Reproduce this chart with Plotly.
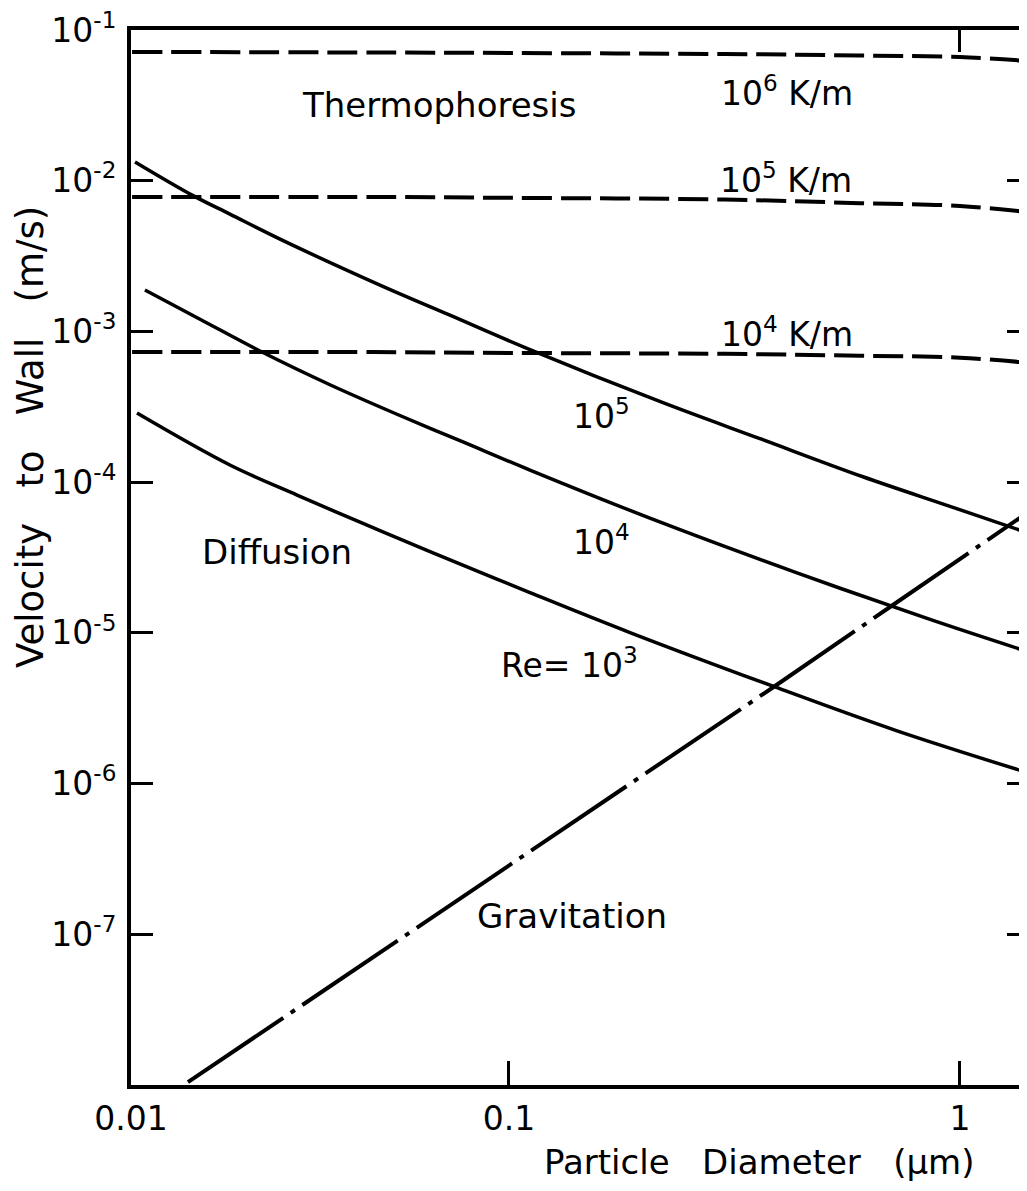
import math
import plotly.graph_objects as go

# ---------------- data ----------------
# Thermophoresis (temperature gradients)
thermo_x = [0.0146, 0.05, 0.1, 0.3, 0.6, 1.0, 1.41]
thermo_1e6 = [0.0715, 0.0709, 0.0704, 0.0693, 0.0677, 0.0662, 0.0623]
thermo_1e5 = [0.0078, 0.0078, 0.0077, 0.0075, 0.0071, 0.0068, 0.0062]
thermo_1e4 = [7.3e-4, 7.3e-4, 7.2e-4, 7.1e-4, 6.9e-4, 6.7e-4, 6.2e-4]

# Diffusion, Re = 1e5
diff5_x = [0.01482, 0.01993, 0.02406, 0.03107, 0.05176, 0.07398, 0.1096, 0.2195, 0.3601, 0.6093, 0.9502, 1.408]
diff5_y = [0.01331, 7.96e-3, 6.004e-3, 4.097e-3, 2.029e-3, 1.281e-3, 7.72e-4, 3.364e-4, 1.943e-4, 1.086e-4, 6.91e-5, 4.63e-5]

# Diffusion, Re = 1e4
diff4_x = [0.01559, 0.02065, 0.02848, 0.04009, 0.05645, 0.07907, 0.1113, 0.2195, 0.4351, 0.8581, 1.408]
diff4_y = [1.882e-3, 1.205e-3, 7.244e-4, 4.429e-4, 2.822e-4, 1.848e-4, 1.203e-4, 5.34e-5, 2.501e-5, 1.227e-5, 7.527e-6]

# Diffusion, Re = 1e3
diff3_x = [0.01497, 0.02406, 0.03389, 0.04746, 0.06681, 0.1113, 0.1855, 0.3889, 0.7251, 1.408]
diff3_y = [2.874e-4, 1.299e-4, 8.21e-5, 5.32e-5, 3.463e-5, 1.851e-5, 1.005e-5, 4.375e-6, 2.237e-6, 1.185e-6]

# Gravitation
grav_x = [0.01942, 0.0876, 0.389, 0.710, 1.408]
grav_y = [1.044e-8, 2.19e-7, 4.44e-6, 1.53e-5, 6.24e-5]

# Axis ticks
x_tick_vals = [0.01452, 0.1, 1]
x_tick_text = ["0.01", "0.1", "1"]
y_tick_vals = [1e-1, 1e-2, 1e-3, 1e-4, 1e-5, 1e-6, 1e-7]
y_tick_text = ["10<sup>-1</sup>", "10<sup>-2</sup>", "10<sup>-3</sup>", "10<sup>-4</sup>",
               "10<sup>-5</sup>", "10<sup>-6</sup>", "10<sup>-7</sup>"]

# ---------------- figure ----------------
FONT = "DejaVu Sans"
# page body has an 8px margin; the figure is sized so that it fills the window exactly
W, H = 1019, 1175
L, T = 123, 22            # plot area left / top inside the figure
PB = 1077                 # plot area bottom inside the figure
PW, PH = W - L, PB - T

fig = go.Figure()

dash_style = dict(color="black", width=4, dash="30px,9px", shape="spline")
for ys in (thermo_1e6, thermo_1e5, thermo_1e4):
    fig.add_trace(go.Scatter(x=thermo_x, y=ys, mode="lines", line=dash_style,
                             showlegend=False, hoverinfo="skip"))

solid = dict(color="black", width=3.5, shape="spline", smoothing=1.0)
for xs, ys in ((diff5_x, diff5_y), (diff4_x, diff4_y), (diff3_x, diff3_y)):
    fig.add_trace(go.Scatter(x=xs, y=ys, mode="lines", line=solid, showlegend=False, hoverinfo="skip"))

fig.add_trace(go.Scatter(x=grav_x, y=grav_y, mode="lines",
                         line=dict(color="black", width=4, dash="115px,9px,5px,9px"),
                         showlegend=False, hoverinfo="skip"))

# dummy trace so the mirrored-tick axes exist
fig.add_trace(go.Scatter(x=[None], y=[None], xaxis="x2", yaxis="y2", showlegend=False, hoverinfo="skip"))

x_range = [math.log10(0.01452), math.log10(1.408)]
y_range = [-8, -1]

tickfont = dict(family=FONT, size=33, color="black")
fig.update_layout(
    width=W, height=H,
    margin=dict(l=L, r=0, t=T, b=H - PB),
    paper_bgcolor="white", plot_bgcolor="white",
    xaxis=dict(type="log", range=x_range, tickvals=x_tick_vals, ticktext=x_tick_text,
               ticks="inside", ticklen=24, tickwidth=3, tickcolor="black",
               showline=True, linewidth=4, linecolor="black", mirror=True,
               showgrid=False, zeroline=False, tickfont=tickfont, ticklabelstandoff=1,
               ticklabeloverflow="allow"),
    yaxis=dict(type="log", range=y_range, tickvals=y_tick_vals, ticktext=y_tick_text,
               ticks="inside", ticklen=22, tickwidth=3, tickcolor="black",
               showline=True, linewidth=4, linecolor="black", mirror=False,
               showgrid=False, zeroline=False, tickfont=tickfont, ticklabelstandoff=4,
               ticklabeloverflow="allow"),
    xaxis2=dict(type="log", range=x_range, overlaying="x", side="top", anchor="y2",
                tickvals=[1], ticks="inside", ticklen=22, tickwidth=3, tickcolor="black",
                showticklabels=False, showline=False, showgrid=False, zeroline=False),
    yaxis2=dict(type="log", range=y_range, overlaying="y", side="right", anchor="x2",
                tickvals=[1e-2, 1e-3, 1e-4, 1e-5, 1e-6, 1e-7], ticks="inside", ticklen=20,
                tickwidth=3, tickcolor="black",
                showticklabels=False, showline=False, showgrid=False, zeroline=False),
)

labels = [
    ("Thermophoresis", 0.0703, 0.0318, 34),
    ("10<sup>6</sup> K/m", 0.4135, 0.0392, 33),
    ("10<sup>5</sup> K/m", 0.411, 0.0103, 33),
    ("10<sup>4</sup> K/m", 0.413, 0.00098, 33),
    ("10<sup>5</sup>", 0.1607, 2.79e-4, 33),
    ("10<sup>4</sup>", 0.160, 4.13e-5, 33),
    ("Re= 10<sup>3</sup>", 0.1365, 6.31e-6, 33),
    ("Diffusion", 0.0306, 3.44e-5, 34),
    ("Gravitation", 0.138, 1.32e-7, 34),
]
for txt, xv, yv, fs in labels:
    fig.add_annotation(x=math.log10(xv), y=math.log10(yv), xref="x", yref="y", text=txt,
                       xanchor="center", yanchor="middle",
                       showarrow=False, font=dict(family=FONT, size=fs, color="black"))

# axis titles (window pixel positions converted to paper fractions)
def px_to_paper(px, py):
    fx, fy = px - 8, py - 8
    return (fx - L) / PW, (PB - fy) / PH

xt = px_to_paper(759, 1162)
fig.add_annotation(x=xt[0], y=xt[1], xref="paper", yref="paper", text="Particle   Diameter   (μm)",
                   xanchor="center", yanchor="middle", showarrow=False,
                   font=dict(family=FONT, size=34, color="black"))

yt = px_to_paper(30, 437)
fig.add_annotation(x=yt[0], y=yt[1], xref="paper", yref="paper",
                   text="Velocity   to   Wall   (m/s)", textangle=-90,
                   xanchor="center", yanchor="middle", showarrow=False,
                   font=dict(family=FONT, size=37, color="black"))

fig.write_html("out.html")
